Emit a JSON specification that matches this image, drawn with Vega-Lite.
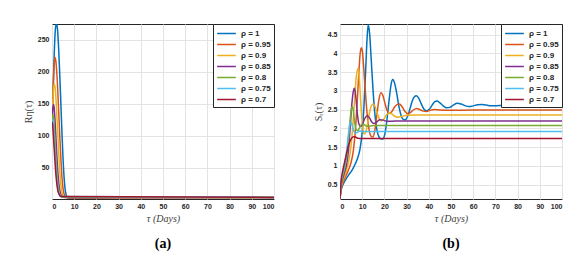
{
 "$schema": "https://vega.github.io/schema/vega-lite/v6.json",
 "background": "white",
 "padding": {"left": 22, "top": 23, "right": 0, "bottom": 0},
 "spacing": 37,
 "datasets": {
  "a": [
   {"rho":"ρ = 1","t":0,"v":120},{"rho":"ρ = 1","t":0.5,"v":170},{"rho":"ρ = 1","t":1,"v":228},{"rho":"ρ = 1","t":1.5,"v":266},{"rho":"ρ = 1","t":2,"v":276},{"rho":"ρ = 1","t":2.5,"v":266},{"rho":"ρ = 1","t":3,"v":236},{"rho":"ρ = 1","t":3.5,"v":195},{"rho":"ρ = 1","t":4,"v":150},{"rho":"ρ = 1","t":4.5,"v":103},{"rho":"ρ = 1","t":5,"v":62},{"rho":"ρ = 1","t":5.5,"v":32},{"rho":"ρ = 1","t":6,"v":14},{"rho":"ρ = 1","t":6.5,"v":6},{"rho":"ρ = 1","t":7,"v":3},{"rho":"ρ = 1","t":8,"v":2},{"rho":"ρ = 1","t":10,"v":1.5},{"rho":"ρ = 1","t":15,"v":1.2},{"rho":"ρ = 1","t":20,"v":2.5},{"rho":"ρ = 1","t":30,"v":3.5},{"rho":"ρ = 1","t":100,"v":3.5},
   {"rho":"ρ = 0.95","t":0,"v":120},{"rho":"ρ = 0.95","t":0.4,"v":160},{"rho":"ρ = 0.95","t":0.8,"v":200},{"rho":"ρ = 0.95","t":1.3,"v":223},{"rho":"ρ = 0.95","t":1.8,"v":215},{"rho":"ρ = 0.95","t":2.4,"v":185},{"rho":"ρ = 0.95","t":3,"v":140},{"rho":"ρ = 0.95","t":3.5,"v":100},{"rho":"ρ = 0.95","t":4,"v":64},{"rho":"ρ = 0.95","t":4.5,"v":35},{"rho":"ρ = 0.95","t":5,"v":17},{"rho":"ρ = 0.95","t":5.5,"v":8},{"rho":"ρ = 0.95","t":6,"v":4.5},{"rho":"ρ = 0.95","t":7,"v":3},{"rho":"ρ = 0.95","t":10,"v":2.5},{"rho":"ρ = 0.95","t":100,"v":3.5},
   {"rho":"ρ = 0.9","t":0,"v":120},{"rho":"ρ = 0.9","t":0.4,"v":155},{"rho":"ρ = 0.9","t":0.7,"v":175},{"rho":"ρ = 0.9","t":1.05,"v":181},{"rho":"ρ = 0.9","t":1.5,"v":172},{"rho":"ρ = 0.9","t":2,"v":145},{"rho":"ρ = 0.9","t":2.5,"v":110},{"rho":"ρ = 0.9","t":3,"v":75},{"rho":"ρ = 0.9","t":3.5,"v":45},{"rho":"ρ = 0.9","t":4,"v":24},{"rho":"ρ = 0.9","t":4.5,"v":12},{"rho":"ρ = 0.9","t":5,"v":6},{"rho":"ρ = 0.9","t":6,"v":3.5},{"rho":"ρ = 0.9","t":100,"v":3.5},
   {"rho":"ρ = 0.85","t":0,"v":120},{"rho":"ρ = 0.85","t":0.3,"v":140},{"rho":"ρ = 0.85","t":0.6,"v":149},{"rho":"ρ = 0.85","t":0.9,"v":146},{"rho":"ρ = 0.85","t":1.3,"v":128},{"rho":"ρ = 0.85","t":1.8,"v":95},{"rho":"ρ = 0.85","t":2.3,"v":62},{"rho":"ρ = 0.85","t":2.8,"v":36},{"rho":"ρ = 0.85","t":3.3,"v":19},{"rho":"ρ = 0.85","t":3.8,"v":10},{"rho":"ρ = 0.85","t":4.5,"v":5},{"rho":"ρ = 0.85","t":5.5,"v":3.5},{"rho":"ρ = 0.85","t":100,"v":3.5},
   {"rho":"ρ = 0.8","t":0,"v":120},{"rho":"ρ = 0.8","t":0.25,"v":130},{"rho":"ρ = 0.8","t":0.5,"v":133},{"rho":"ρ = 0.8","t":0.8,"v":125},{"rho":"ρ = 0.8","t":1.2,"v":102},{"rho":"ρ = 0.8","t":1.7,"v":70},{"rho":"ρ = 0.8","t":2.2,"v":42},{"rho":"ρ = 0.8","t":2.7,"v":23},{"rho":"ρ = 0.8","t":3.2,"v":12},{"rho":"ρ = 0.8","t":3.8,"v":6},{"rho":"ρ = 0.8","t":4.5,"v":4},{"rho":"ρ = 0.8","t":100,"v":3.5},
   {"rho":"ρ = 0.75","t":0,"v":120},{"rho":"ρ = 0.75","t":0.2,"v":125},{"rho":"ρ = 0.75","t":0.4,"v":124},{"rho":"ρ = 0.75","t":0.8,"v":106},{"rho":"ρ = 0.75","t":1.2,"v":82},{"rho":"ρ = 0.75","t":1.7,"v":52},{"rho":"ρ = 0.75","t":2.2,"v":30},{"rho":"ρ = 0.75","t":2.7,"v":16},{"rho":"ρ = 0.75","t":3.2,"v":9},{"rho":"ρ = 0.75","t":4,"v":5},{"rho":"ρ = 0.75","t":100,"v":3.5},
   {"rho":"ρ = 0.7","t":0,"v":120},{"rho":"ρ = 0.7","t":0.15,"v":121},{"rho":"ρ = 0.7","t":0.4,"v":112},{"rho":"ρ = 0.7","t":0.8,"v":90},{"rho":"ρ = 0.7","t":1.2,"v":68},{"rho":"ρ = 0.7","t":1.7,"v":42},{"rho":"ρ = 0.7","t":2.2,"v":24},{"rho":"ρ = 0.7","t":2.7,"v":13},{"rho":"ρ = 0.7","t":3.2,"v":8},{"rho":"ρ = 0.7","t":4,"v":5},{"rho":"ρ = 0.7","t":100,"v":3.5}
  ],
  "b": [
   {"rho":"ρ = 1","t":0,"v":0.12},{"rho":"ρ = 1","t":0.5,"v":0.35},{"rho":"ρ = 1","t":1,"v":0.45},{"rho":"ρ = 1","t":2,"v":0.58},{"rho":"ρ = 1","t":3,"v":0.68},{"rho":"ρ = 1","t":4,"v":0.77},{"rho":"ρ = 1","t":5,"v":0.85},{"rho":"ρ = 1","t":6,"v":0.95},{"rho":"ρ = 1","t":7,"v":1.07},{"rho":"ρ = 1","t":8,"v":1.22},{"rho":"ρ = 1","t":9,"v":1.45},{"rho":"ρ = 1","t":10,"v":1.9},{"rho":"ρ = 1","t":10.8,"v":2.6},{"rho":"ρ = 1","t":11.6,"v":3.6},{"rho":"ρ = 1","t":12.2,"v":4.4},{"rho":"ρ = 1","t":12.7,"v":4.76},{"rho":"ρ = 1","t":13.3,"v":4.55},{"rho":"ρ = 1","t":14,"v":3.9},{"rho":"ρ = 1","t":14.8,"v":3.1},{"rho":"ρ = 1","t":15.6,"v":2.45},{"rho":"ρ = 1","t":16.5,"v":2.0},{"rho":"ρ = 1","t":17.5,"v":1.78},{"rho":"ρ = 1","t":18.5,"v":1.72},{"rho":"ρ = 1","t":19.3,"v":1.72},{"rho":"ρ = 1","t":20.2,"v":1.85},{"rho":"ρ = 1","t":21.2,"v":2.25},{"rho":"ρ = 1","t":22.2,"v":2.8},{"rho":"ρ = 1","t":23.1,"v":3.2},{"rho":"ρ = 1","t":23.8,"v":3.3},{"rho":"ρ = 1","t":24.6,"v":3.2},{"rho":"ρ = 1","t":25.5,"v":2.95},{"rho":"ρ = 1","t":26.5,"v":2.6},{"rho":"ρ = 1","t":27.5,"v":2.35},{"rho":"ρ = 1","t":28.5,"v":2.24},{"rho":"ρ = 1","t":29.4,"v":2.23},{"rho":"ρ = 1","t":30.5,"v":2.33},{"rho":"ρ = 1","t":31.5,"v":2.52},{"rho":"ρ = 1","t":32.5,"v":2.72},{"rho":"ρ = 1","t":33.5,"v":2.84},{"rho":"ρ = 1","t":34.4,"v":2.87},{"rho":"ρ = 1","t":35.5,"v":2.8},{"rho":"ρ = 1","t":36.7,"v":2.64},{"rho":"ρ = 1","t":38,"v":2.5},{"rho":"ρ = 1","t":39,"v":2.47},{"rho":"ρ = 1","t":40.2,"v":2.51},{"rho":"ρ = 1","t":41.5,"v":2.62},{"rho":"ρ = 1","t":42.7,"v":2.71},{"rho":"ρ = 1","t":43.7,"v":2.73},{"rho":"ρ = 1","t":45,"v":2.68},{"rho":"ρ = 1","t":46.5,"v":2.6},{"rho":"ρ = 1","t":48,"v":2.55},{"rho":"ρ = 1","t":49.5,"v":2.56},{"rho":"ρ = 1","t":51,"v":2.62},{"rho":"ρ = 1","t":52.8,"v":2.67},{"rho":"ρ = 1","t":54.5,"v":2.65},{"rho":"ρ = 1","t":56.5,"v":2.6},{"rho":"ρ = 1","t":58.2,"v":2.58},{"rho":"ρ = 1","t":60,"v":2.6},{"rho":"ρ = 1","t":62,"v":2.63},{"rho":"ρ = 1","t":64,"v":2.635},{"rho":"ρ = 1","t":66,"v":2.62},{"rho":"ρ = 1","t":68,"v":2.6},{"rho":"ρ = 1","t":72,"v":2.61},{"rho":"ρ = 1","t":80,"v":2.62},{"rho":"ρ = 1","t":100,"v":2.62},
   {"rho":"ρ = 0.95","t":0,"v":0.12},{"rho":"ρ = 0.95","t":0.5,"v":0.38},{"rho":"ρ = 0.95","t":1,"v":0.5},{"rho":"ρ = 0.95","t":2,"v":0.65},{"rho":"ρ = 0.95","t":3,"v":0.78},{"rho":"ρ = 0.95","t":4,"v":0.92},{"rho":"ρ = 0.95","t":5,"v":1.1},{"rho":"ρ = 0.95","t":6,"v":1.4},{"rho":"ρ = 0.95","t":7,"v":2.0},{"rho":"ρ = 0.95","t":7.8,"v":2.75},{"rho":"ρ = 0.95","t":8.5,"v":3.5},{"rho":"ρ = 0.95","t":9.1,"v":4.0},{"rho":"ρ = 0.95","t":9.6,"v":4.15},{"rho":"ρ = 0.95","t":10.1,"v":4.05},{"rho":"ρ = 0.95","t":10.7,"v":3.6},{"rho":"ρ = 0.95","t":11.4,"v":3.0},{"rho":"ρ = 0.95","t":12.2,"v":2.4},{"rho":"ρ = 0.95","t":13,"v":2.0},{"rho":"ρ = 0.95","t":13.9,"v":1.8},{"rho":"ρ = 0.95","t":14.8,"v":1.77},{"rho":"ρ = 0.95","t":15.7,"v":1.95},{"rho":"ρ = 0.95","t":16.6,"v":2.35},{"rho":"ρ = 0.95","t":17.5,"v":2.75},{"rho":"ρ = 0.95","t":18.4,"v":2.95},{"rho":"ρ = 0.95","t":19.3,"v":2.88},{"rho":"ρ = 0.95","t":20.2,"v":2.68},{"rho":"ρ = 0.95","t":21.2,"v":2.48},{"rho":"ρ = 0.95","t":22.3,"v":2.4},{"rho":"ρ = 0.95","t":23.4,"v":2.45},{"rho":"ρ = 0.95","t":24.6,"v":2.57},{"rho":"ρ = 0.95","t":25.8,"v":2.64},{"rho":"ρ = 0.95","t":26.8,"v":2.65},{"rho":"ρ = 0.95","t":28,"v":2.57},{"rho":"ρ = 0.95","t":29.3,"v":2.45},{"rho":"ρ = 0.95","t":30.5,"v":2.39},{"rho":"ρ = 0.95","t":31.7,"v":2.42},{"rho":"ρ = 0.95","t":33,"v":2.49},{"rho":"ρ = 0.95","t":34.5,"v":2.53},{"rho":"ρ = 0.95","t":36,"v":2.5},{"rho":"ρ = 0.95","t":37.5,"v":2.46},{"rho":"ρ = 0.95","t":39,"v":2.45},{"rho":"ρ = 0.95","t":40.5,"v":2.48},{"rho":"ρ = 0.95","t":42.5,"v":2.5},{"rho":"ρ = 0.95","t":45,"v":2.49},{"rho":"ρ = 0.95","t":50,"v":2.48},{"rho":"ρ = 0.95","t":60,"v":2.49},{"rho":"ρ = 0.95","t":100,"v":2.49},
   {"rho":"ρ = 0.9","t":0,"v":0.12},{"rho":"ρ = 0.9","t":0.5,"v":0.42},{"rho":"ρ = 0.9","t":1,"v":0.55},{"rho":"ρ = 0.9","t":2,"v":0.72},{"rho":"ρ = 0.9","t":3,"v":0.9},{"rho":"ρ = 0.9","t":4,"v":1.15},{"rho":"ρ = 0.9","t":5,"v":1.55},{"rho":"ρ = 0.9","t":5.8,"v":2.1},{"rho":"ρ = 0.9","t":6.6,"v":2.8},{"rho":"ρ = 0.9","t":7.3,"v":3.35},{"rho":"ρ = 0.9","t":8,"v":3.59},{"rho":"ρ = 0.9","t":8.6,"v":3.4},{"rho":"ρ = 0.9","t":9.2,"v":2.85},{"rho":"ρ = 0.9","t":9.8,"v":2.3},{"rho":"ρ = 0.9","t":10.4,"v":1.95},{"rho":"ρ = 0.9","t":11,"v":1.85},{"rho":"ρ = 0.9","t":11.7,"v":1.92},{"rho":"ρ = 0.9","t":12.5,"v":2.15},{"rho":"ρ = 0.9","t":13.4,"v":2.45},{"rho":"ρ = 0.9","t":14.3,"v":2.62},{"rho":"ρ = 0.9","t":15,"v":2.65},{"rho":"ρ = 0.9","t":15.8,"v":2.58},{"rho":"ρ = 0.9","t":16.8,"v":2.4},{"rho":"ρ = 0.9","t":17.8,"v":2.25},{"rho":"ρ = 0.9","t":18.8,"v":2.2},{"rho":"ρ = 0.9","t":19.8,"v":2.25},{"rho":"ρ = 0.9","t":20.8,"v":2.35},{"rho":"ρ = 0.9","t":22,"v":2.41},{"rho":"ρ = 0.9","t":23.2,"v":2.39},{"rho":"ρ = 0.9","t":24.5,"v":2.33},{"rho":"ρ = 0.9","t":26,"v":2.3},{"rho":"ρ = 0.9","t":28,"v":2.32},{"rho":"ρ = 0.9","t":30,"v":2.35},{"rho":"ρ = 0.9","t":35,"v":2.36},{"rho":"ρ = 0.9","t":100,"v":2.36},
   {"rho":"ρ = 0.85","t":0,"v":0.12},{"rho":"ρ = 0.85","t":0.5,"v":0.48},{"rho":"ρ = 0.85","t":1,"v":0.62},{"rho":"ρ = 0.85","t":2,"v":0.82},{"rho":"ρ = 0.85","t":3,"v":1.05},{"rho":"ρ = 0.85","t":3.8,"v":1.4},{"rho":"ρ = 0.85","t":4.5,"v":1.95},{"rho":"ρ = 0.85","t":5.2,"v":2.55},{"rho":"ρ = 0.85","t":5.9,"v":2.95},{"rho":"ρ = 0.85","t":6.5,"v":3.07},{"rho":"ρ = 0.85","t":7.1,"v":2.85},{"rho":"ρ = 0.85","t":7.8,"v":2.4},{"rho":"ρ = 0.85","t":8.5,"v":2.12},{"rho":"ρ = 0.85","t":9.3,"v":2.05},{"rho":"ρ = 0.85","t":10.2,"v":2.12},{"rho":"ρ = 0.85","t":11.2,"v":2.27},{"rho":"ρ = 0.85","t":12.3,"v":2.34},{"rho":"ρ = 0.85","t":13.3,"v":2.28},{"rho":"ρ = 0.85","t":14.3,"v":2.17},{"rho":"ρ = 0.85","t":15.3,"v":2.13},{"rho":"ρ = 0.85","t":16.5,"v":2.17},{"rho":"ρ = 0.85","t":18,"v":2.23},{"rho":"ρ = 0.85","t":19.5,"v":2.22},{"rho":"ρ = 0.85","t":21,"v":2.19},{"rho":"ρ = 0.85","t":23,"v":2.19},{"rho":"ρ = 0.85","t":26,"v":2.2},{"rho":"ρ = 0.85","t":100,"v":2.2},
   {"rho":"ρ = 0.8","t":0,"v":0.12},{"rho":"ρ = 0.8","t":0.5,"v":0.52},{"rho":"ρ = 0.8","t":1,"v":0.68},{"rho":"ρ = 0.8","t":2,"v":0.92},{"rho":"ρ = 0.8","t":3,"v":1.25},{"rho":"ρ = 0.8","t":3.8,"v":1.7},{"rho":"ρ = 0.8","t":4.5,"v":2.2},{"rho":"ρ = 0.8","t":5.1,"v":2.5},{"rho":"ρ = 0.8","t":5.6,"v":2.58},{"rho":"ρ = 0.8","t":6.1,"v":2.42},{"rho":"ρ = 0.8","t":6.7,"v":2.12},{"rho":"ρ = 0.8","t":7.4,"v":1.95},{"rho":"ρ = 0.8","t":8.2,"v":1.95},{"rho":"ρ = 0.8","t":9,"v":2.05},{"rho":"ρ = 0.8","t":10,"v":2.12},{"rho":"ρ = 0.8","t":11,"v":2.1},{"rho":"ρ = 0.8","t":12,"v":2.06},{"rho":"ρ = 0.8","t":13.5,"v":2.06},{"rho":"ρ = 0.8","t":15,"v":2.08},{"rho":"ρ = 0.8","t":100,"v":2.08},
   {"rho":"ρ = 0.75","t":0,"v":0.12},{"rho":"ρ = 0.75","t":0.5,"v":0.56},{"rho":"ρ = 0.75","t":1,"v":0.74},{"rho":"ρ = 0.75","t":2,"v":1.0},{"rho":"ρ = 0.75","t":3,"v":1.4},{"rho":"ρ = 0.75","t":3.7,"v":1.8},{"rho":"ρ = 0.75","t":4.4,"v":2.1},{"rho":"ρ = 0.75","t":5,"v":2.17},{"rho":"ρ = 0.75","t":5.6,"v":2.05},{"rho":"ρ = 0.75","t":6.3,"v":1.92},{"rho":"ρ = 0.75","t":7,"v":1.87},{"rho":"ρ = 0.75","t":8,"v":1.9},{"rho":"ρ = 0.75","t":9,"v":1.93},{"rho":"ρ = 0.75","t":10.5,"v":1.92},{"rho":"ρ = 0.75","t":100,"v":1.92},
   {"rho":"ρ = 0.7","t":0,"v":0.12},{"rho":"ρ = 0.7","t":0.5,"v":0.6},{"rho":"ρ = 0.7","t":1,"v":0.8},{"rho":"ρ = 0.7","t":2,"v":1.08},{"rho":"ρ = 0.7","t":3,"v":1.35},{"rho":"ρ = 0.7","t":4,"v":1.58},{"rho":"ρ = 0.7","t":5,"v":1.72},{"rho":"ρ = 0.7","t":6,"v":1.78},{"rho":"ρ = 0.7","t":7,"v":1.77},{"rho":"ρ = 0.7","t":8,"v":1.74},{"rho":"ρ = 0.7","t":9.5,"v":1.73},{"rho":"ρ = 0.7","t":100,"v":1.73}
  ]
 },
 "hconcat": [
  {
   "width": 222, "height": 175,
   "data": {"name": "a"},
   "title": {"text": "(a)", "orient": "bottom", "offset": 14},
   "mark": {"type": "line", "interpolate": "monotone", "strokeWidth": 1.5, "clip": true},
   "encoding": {
    "x": {"field": "t", "type": "quantitative", "scale": {"domain": [0, 100], "nice": false}, "axis": {"values": [0,10,20,30,40,50,60,70,80,90,100], "title": "τ (Days)"}},
    "y": {"field": "v", "type": "quantitative", "scale": {"domain": [1, 275], "nice": false, "zero": false}, "axis": {"values": [50,100,150,200,250], "title": "Rη(τ)"}},
    "color": {"field": "rho", "type": "nominal", "sort": null,
     "scale": {"domain": ["ρ = 1","ρ = 0.95","ρ = 0.9","ρ = 0.85","ρ = 0.8","ρ = 0.75","ρ = 0.7"], "range": ["#0072BD","#D95319","#EDB120","#7E2F8E","#77AC30","#4DBEEE","#A2142F"]},
     "legend": {"orient": "top-right", "offset": 0, "title": null}}
   }
  },
  {
   "width": 222, "height": 175,
   "data": {"name": "b"},
   "title": {"text": "(b)", "orient": "bottom", "offset": 14},
   "mark": {"type": "line", "interpolate": "monotone", "strokeWidth": 1.5, "clip": true},
   "encoding": {
    "x": {"field": "t", "type": "quantitative", "scale": {"domain": [0, 100], "nice": false}, "axis": {"values": [0,10,20,30,40,50,60,70,80,90,100], "title": "τ (Days)"}},
    "y": {"field": "v", "type": "quantitative", "scale": {"domain": [0.12, 4.78], "nice": false, "zero": false}, "axis": {"values": [0.5,1,1.5,2,2.5,3,3.5,4,4.5], "format": "~g", "title": "Sᵣ(τ)"}},
    "color": {"field": "rho", "type": "nominal", "sort": null,
     "scale": {"domain": ["ρ = 1","ρ = 0.95","ρ = 0.9","ρ = 0.85","ρ = 0.8","ρ = 0.75","ρ = 0.7"], "range": ["#0072BD","#D95319","#EDB120","#7E2F8E","#77AC30","#4DBEEE","#A2142F"]},
     "legend": {"orient": "top-right", "offset": 0, "title": null}}
   }
  }
 ],
 "resolve": {"scale": {"color": "independent", "x": "independent", "y": "independent"}, "legend": {"color": "independent"}},
 "config": {
  "view": {"stroke": "#262626", "strokeWidth": 1},
  "axis": {"labelFont": "Liberation Sans", "labelFontSize": 7, "labelFontWeight": "bold", "labelColor": "#262626", "labelPadding": 3,
           "gridColor": "#e3e3e3", "gridWidth": 1, "domain": false, "ticks": false,
           "titleFont": "Liberation Serif", "titleFontSize": 10, "titleFontWeight": "normal", "titleColor": "#404040", "titlePadding": 4},
  "axisX": {"titleFontStyle": "italic"},
  "legend": {"strokeColor": "#262626", "fillColor": "white", "padding": 3, "labelFont": "Liberation Sans", "labelFontWeight": "bold", "labelFontSize": 8, "labelColor": "#262626",
             "symbolType": "M-1.7,0H1.7", "symbolSize": 121, "symbolStrokeWidth": 1.5, "symbolOffset": 4, "rowPadding": 0, "labelOffset": 8},
  "title": {"font": "Liberation Serif", "fontSize": 14, "fontWeight": "bold", "color": "black"}
 }
}
